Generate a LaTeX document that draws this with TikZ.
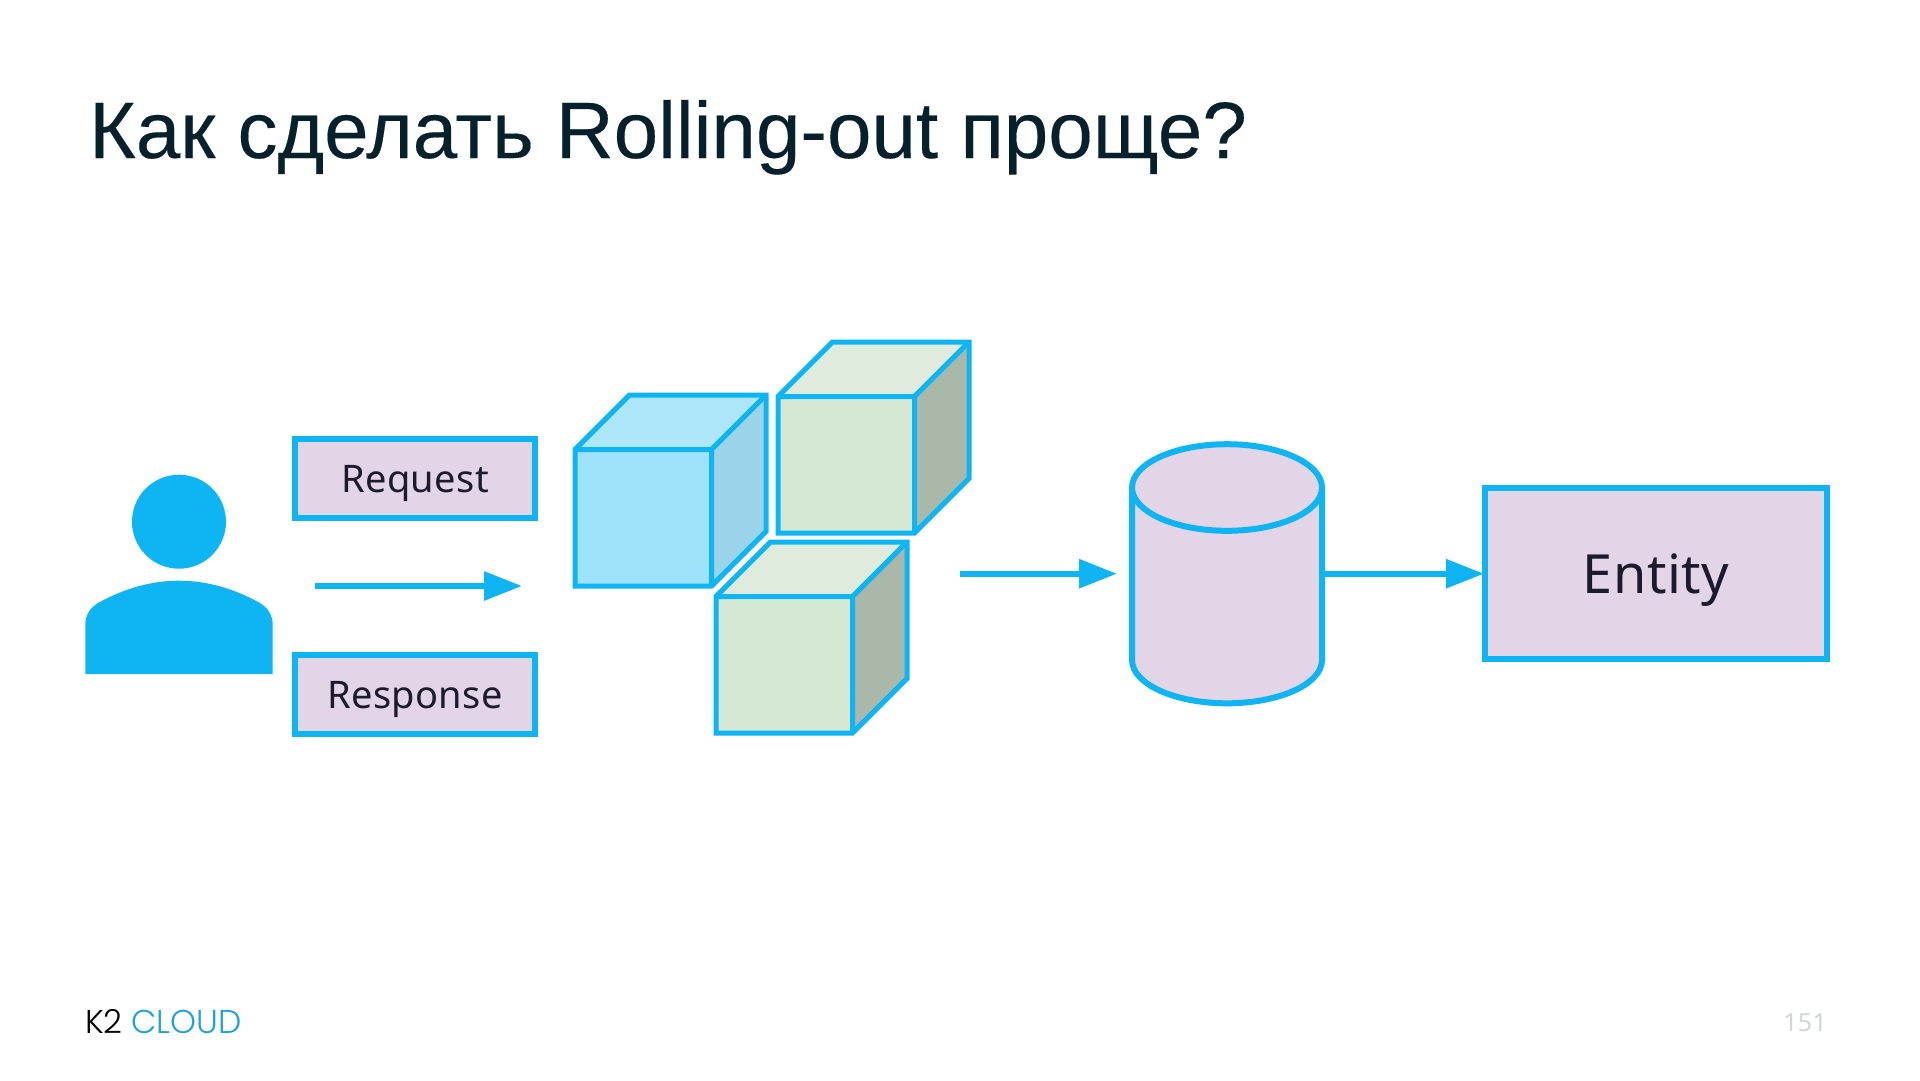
\documentclass[tikz,border=0pt]{standalone}
\usepackage{fontspec}
\setmainfont{Liberation Sans}[FakeBold=0.2]
\newfontfamily\plexlike{Noto Sans}[LetterSpace=1]
\newfontfamily\logofont{Poppins Light}
\usetikzlibrary{arrows.meta}
\definecolor{linkblue}{HTML}{0FB5F2}
\definecolor{lilac}{HTML}{E1D5E7}
\definecolor{inkc}{HTML}{1D1A2E}
\definecolor{titlec}{HTML}{06202C}
\definecolor{logoblue}{HTML}{1FA2D8}
\definecolor{numc}{HTML}{D2D6DA}
\tikzset{
  labelbox/.style={draw=linkblue,fill=lilac,line width=6pt,text=inkc,inner sep=0pt,font=\plexlike\fontsize{38}{44}\selectfont},
  flowarrow/.style={draw=linkblue,line width=6pt,-{Triangle[length=38pt,width=28pt,fill=linkblue]}},
  cubeedge/.style={draw=linkblue,line width=5pt,line join=miter},
  dbedge/.style={draw=linkblue,line width=6pt},
}
\newcommand{\cubeat}[8]{%
  % #1 name, #2 x0, #3 y0, #4 size, #5 depth, #6 front, #7 top, #8 side
  \coordinate (#1fl) at (#2,#3);
  \coordinate (#1fr) at (#2+#4,#3);
  \coordinate (#1br) at (#2+#4,#3+#4);
  \coordinate (#1bl) at (#2,#3+#4);
  \coordinate (#1tl) at (#2+#5,#3-#5);
  \coordinate (#1tr) at (#2+#4+#5,#3-#5);
  \coordinate (#1dr) at (#2+#4+#5,#3+#4-#5);
  \fill[#7] (#1fl)--(#1tl)--(#1tr)--(#1fr)--cycle;
  \fill[#8] (#1fr)--(#1tr)--(#1dr)--(#1br)--cycle;
  \fill[#6] (#1fl)--(#1fr)--(#1br)--(#1bl)--cycle;
  \draw[cubeedge] (#1fl)--(#1tl)--(#1tr)--(#1dr)--(#1br)--(#1bl)--cycle;
  \draw[cubeedge] (#1fl)--(#1fr)--(#1br) (#1fr)--(#1tr);
}
\begin{document}
\begin{tikzpicture}[x=1pt,y=-1pt]
\useasboundingbox (0,0) rectangle (1920,1080);
\fill[white] (0,0) rectangle (1920,1080);

\node[anchor=base west,inner sep=0pt,text=titlec,font=\fontsize{80}{96}\selectfont] (title) at (89,158) {Как сделать Rolling-out проще?};

% person
\node[circle,fill=linkblue,minimum size=94pt,inner sep=0pt,draw=none] (head) at (179,521.7) {};
\fill[linkblue] (85.3,674) -- (85.3,625) .. controls (85.3,615) and (90,608) .. (98,603)
  .. controls (125,588) and (152,580.7) .. (179,580.7)
  .. controls (206,580.7) and (233,588) .. (260,603)
  .. controls (268,608) and (272.7,615) .. (272.7,625) -- (272.7,674) -- cycle;

\node[labelbox,minimum width=240pt,minimum height=78.5pt] (req) at (415,478.4) {\raisebox{-14.5pt}[0pt][0pt]{Request}};
\node[labelbox,minimum width=240pt,minimum height=78.5pt] (resp) at (415,694.5) {\raisebox{-14pt}[0pt][0pt]{Response}};

\coordinate (a1s) at (315,586);
\coordinate (a1e) at (522,586);
\draw[flowarrow] (a1s) -- (a1e);

% cubes
\definecolor{bluef}{HTML}{9EE3FB}\definecolor{bluet}{HTML}{AEE7FA}\definecolor{blues}{HTML}{9BD3E8}
\definecolor{greenf}{HTML}{D5E8D4}\definecolor{greent}{HTML}{DFEBDD}\definecolor{greens}{HTML}{AAB8AA}
\cubeat{cA}{575}{449.5}{136.5}{54.5}{bluef}{bluet}{blues}
\cubeat{cB}{778}{396.5}{136.5}{54.5}{greenf}{greent}{greens}
\cubeat{cC}{716}{596.5}{136.5}{54.5}{greenf}{greent}{greens}

\coordinate (a2s) at (960,573.7);
\coordinate (a2e) at (1117,573.7);
\draw[flowarrow] (a2s) -- (a2e);

% database
\fill[lilac] (1132,487.5) -- (1132,660) arc[start angle=180,end angle=360,x radius=95pt,y radius=43.3pt] -- (1322,487.5) -- cycle;
\draw[dbedge] (1132,487.5) -- (1132,660) arc[start angle=180,end angle=360,x radius=95pt,y radius=43.3pt] -- (1322,487.5);
\draw[dbedge,fill=lilac] (1227,487.5) ellipse[x radius=95pt,y radius=43.3pt];
\coordinate (dbE) at (1325,573.7);

\node[labelbox,minimum width=342pt,minimum height=171pt,font=\plexlike\fontsize{54}{62}\selectfont] (entity) at (1656,573.7) {\raisebox{-20pt}[0pt][0pt]{Entity}};
\draw[flowarrow] (dbE) -- ([xshift=2pt]entity.west);

% footer
\node[anchor=base west,inner sep=0pt,text=black,font=\logofont\fontsize{33}{38}\selectfont] (k2) at (85,1033) {K2};
\node[anchor=base west,inner sep=0pt,text=logoblue,font=\logofont\fontsize{33}{38}\selectfont] (cloud) at (131,1033) {CLOUD};
\node[anchor=base east,inner sep=0pt,text=numc,font=\plexlike\fontsize{25}{30}\selectfont] (pnum) at (1827,1031) {151};
\end{tikzpicture}
\end{document}
